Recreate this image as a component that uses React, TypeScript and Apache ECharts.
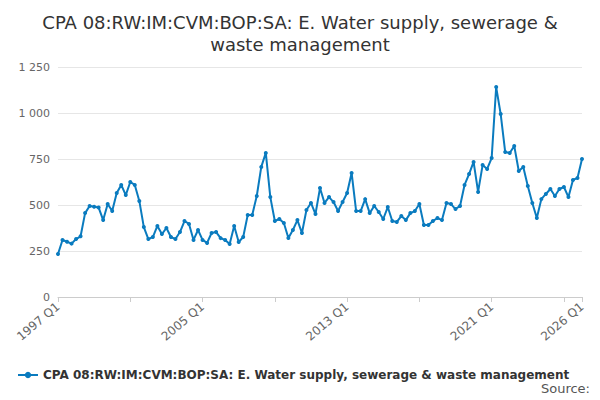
import { useEffect, useRef } from 'react';
import * as echarts from 'echarts';

const seriesName = 'CPA 08:RW:IM:CVM:BOP:SA: E. Water supply, sewerage & waste management';

const values = [
  234, 310, 300, 290, 315, 330, 456, 495, 490, 486, 418, 505, 467, 565, 609, 554,
  625, 609, 522, 380, 315, 326, 386, 342, 375, 326, 315, 353, 413, 397, 310, 364,
  310, 294, 348, 353, 320, 310, 288, 386, 299, 326, 446, 446, 549, 707, 783, 543,
  413, 424, 402, 321, 364, 418, 348, 473, 511, 451, 592, 511, 543, 516, 467, 516,
  565, 674, 467, 467, 532, 456, 495, 462, 424, 489, 413, 408, 440, 418, 456, 467,
  505, 391, 391, 413, 429, 418, 511, 505, 478, 495, 609, 668, 734, 571, 717, 696,
  755, 1141, 994, 788, 783, 821, 685, 707, 603, 511, 429, 532, 560, 587, 549, 587,
  598, 543, 636, 647, 750,
];

const categories = values.map((_, i) => `${1997 + Math.floor(i / 4)} Q${(i % 4) + 1}`);

const App = () => {
  const chartDom = useRef<HTMLDivElement | null>(null);

  useEffect(() => {
    if (!chartDom.current) return;
    const myChart = echarts.init(chartDom.current, undefined, { renderer: 'svg' });
    const last = categories.length - 1;
    myChart.setOption({
      animation: false,
      textStyle: { fontFamily: 'DejaVu Sans' },
      title: {
        text: 'CPA 08:RW:IM:CVM:BOP:SA: E. Water supply, sewerage &\nwaste management',
        left: 'center',
        top: 6,
        textStyle: { fontSize: 18, fontWeight: 'normal', color: '#333', lineHeight: 22 },
      },
      legend: {
        data: [seriesName],
        top: 364,
        left: 12,
        itemWidth: 20,
        itemHeight: 8,
        itemGap: 4,
        textStyle: { fontSize: 12, fontWeight: 'bold', color: '#333' },
      },
      graphic: [
        {
          type: 'text',
          right: 10,
          top: 382,
          style: { text: 'Source:', fontSize: 13, fill: '#555', fontFamily: 'DejaVu Sans' },
        },
      ],
      grid: { left: 58, right: 18, top: 67, bottom: 103 },
      xAxis: {
        type: 'category',
        data: categories,
        boundaryGap: false,
        axisLine: { lineStyle: { color: '#ccc' } },
        axisTick: { interval: (i: number) => i % 16 === 0 || i === last, lineStyle: { color: '#ccc' } },
        axisLabel: {
          interval: (i: number) => i % 32 === 0 || i === last,
          rotate: 40,
          color: '#666',
          fontSize: 12,
          showMaxLabel: true,
        },
      },
      yAxis: {
        type: 'value',
        min: 0,
        max: 1250,
        interval: 250,
        axisLabel: {
          color: '#666',
          fontSize: 11,
          formatter: (v: number) => String(v).replace(/\B(?=(\d{3})+(?!\d))/g, ' '),
        },
        splitLine: { lineStyle: { color: '#e6e6e6' } },
      },
      series: [
        {
          name: seriesName,
          type: 'line',
          data: values,
          symbol: 'circle',
          symbolSize: 4,
          showAllSymbol: true,
          itemStyle: { color: '#0a7bbf' },
          lineStyle: { color: '#0a7bbf', width: 2 },
        },
      ],
    });
    return () => myChart.dispose();
  }, []);

  return (
    <div
      ref={chartDom}
      style={{ position: 'absolute', left: 0, top: 0, width: 600, height: 400 }}
    />
  );
};

export default App;
